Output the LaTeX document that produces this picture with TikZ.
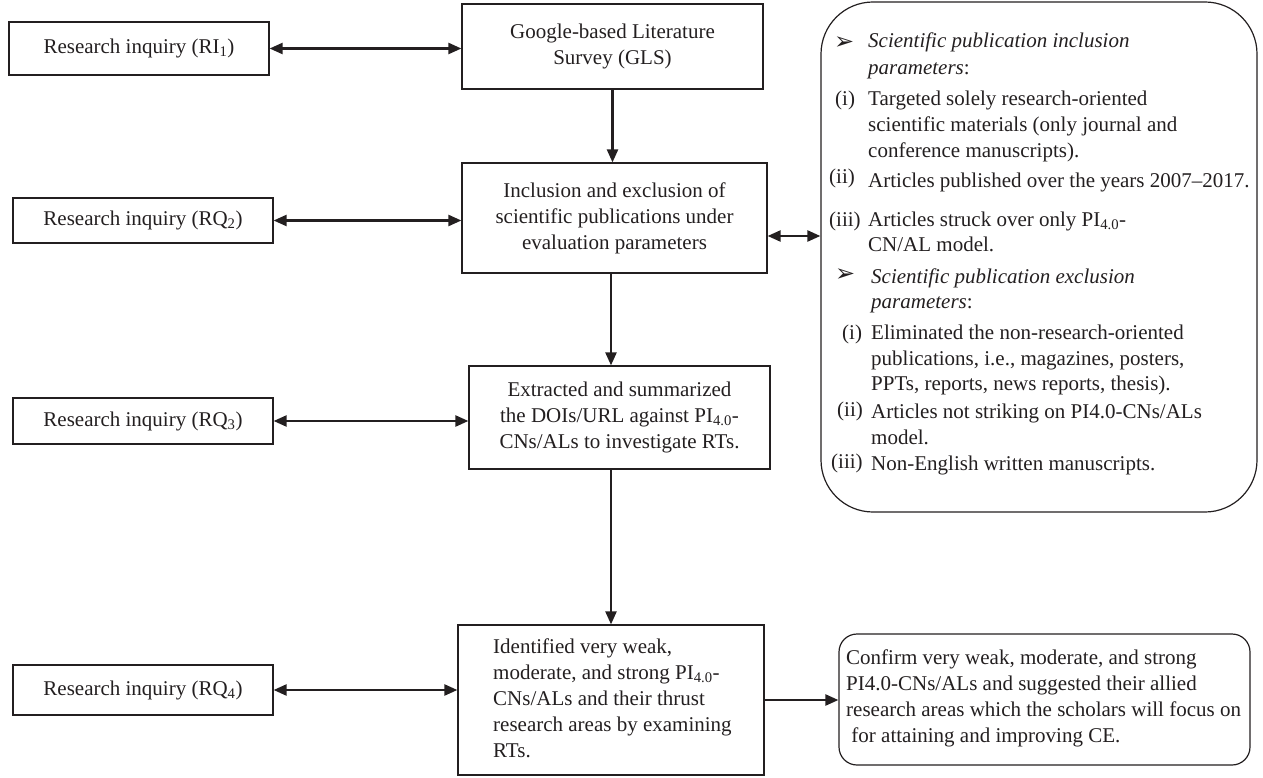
\documentclass[tikz,border=0pt]{standalone}
\usepackage{fontspec}
\setmainfont{Liberation Serif}
\newfontfamily\dingfont{DejaVu Sans}
\usetikzlibrary{arrows.meta,calc}
\definecolor{ink}{HTML}{231F20}
\newcommand{\mysub}[1]{\textsubscript{#1}}
\newcommand{\arrowbullet}{{\dingfont\fontsize{24}{24}\selectfont\symbol{"27A2}}}
\begin{document}
\begin{tikzpicture}[x=1pt,y=-1pt,
  >={Triangle[length=13pt,width=11pt]},
  every node/.style={font=\fontsize{21}{26}\selectfont, text=ink},
  box/.style={draw=ink, line width=1.2pt, inner sep=0pt, align=center},
  rbox/.style={box, rounded corners=18pt},
  bigbox/.style={box, rounded corners=52pt},
  dbl/.style={<->, line width=2.3pt, draw=ink},
  sgl/.style={->, line width=2.3pt, draw=ink},
  txt/.style={anchor=mid west, inner sep=0pt, align=left},
  blocktxt/.style={anchor=west, inner sep=0pt, align=left}
]
\useasboundingbox (0,0) rectangle (1263,778);

% left column
\node[box, minimum width=260pt, minimum height=53pt] (ri1) at (139,48.5) {Research inquiry (RI\mysub{1})};
\node[box, minimum width=260pt, minimum height=45pt] (rq2) at (143,220.5) {Research inquiry (RQ\mysub{2})};
\node[box, minimum width=260pt, minimum height=46pt] (rq3) at (143,421) {Research inquiry (RQ\mysub{3})};
\node[box, minimum width=260pt, minimum height=50pt] (rq4) at (143,690) {Research inquiry (RQ\mysub{4})};

% centre column
\node[box, minimum width=301pt, minimum height=85pt] (gls) at (612.5,46.5) {Google-based Literature\\Survey (GLS)};
\node[box, minimum width=305pt, minimum height=110pt] (incl) at (614.5,218) {Inclusion and exclusion of\\scientific publications under\\evaluation parameters};
\node[box, minimum width=301pt, minimum height=103pt] (extr) at (619.5,417.5) {Extracted and summarized\\the DOIs/URL against PI\mysub{4.0}-\\CNs/ALs to investigate RTs.};
\node[box, minimum width=306pt, minimum height=150pt] (ident) at (611,700) {};
\node[blocktxt] (identtext) at (493,698) {Identified very weak,\\moderate, and strong PI\mysub{4.0}-\\CNs/ALs and their thrust\\research areas by examining\\RTs.};

% right column
\node[bigbox, minimum width=436pt, minimum height=510pt] (big) at (1039,257) {};
\node[txt] (b1a) at (834,47) {\arrowbullet};
\node[txt] (b1) at (868,45) {\textit{Scientific publication inclusion}};
\node[txt] (b1b) at (868,72) {\textit{parameters}:};
\node[txt] (i1a) at (835,103) {(i)};
\node[txt] (i1) at (868,103) {Targeted solely research-oriented};
\node[txt] (i1b) at (868,129) {scientific materials (only journal and};
\node[txt] (i1c) at (868,155) {conference manuscripts).};
\node[txt] (i2a) at (829,181) {(ii)};
\node[txt] (i2) at (868,185) {Articles published over the years 2007--2017.};
\node[txt] (i3a) at (829,224) {(iii)};
\node[txt] (i3) at (868,224) {Articles struck over only PI\mysub{4.0}-};
\node[txt] (i3b) at (868,249) {CN/AL model.};
\node[txt] (b2a) at (835,279) {\arrowbullet};
\node[txt] (b2) at (871,281) {\textit{Scientific publication exclusion}};
\node[txt] (b2b) at (871,306) {\textit{parameters}:};
\node[txt] (e1a) at (842,337) {(i)};
\node[txt] (e1) at (871,337) {Eliminated the non-research-oriented};
\node[txt] (e1b) at (871,363) {publications, i.e., magazines, posters,};
\node[txt] (e1c) at (871,388) {PPTs, reports, news reports, thesis).};
\node[txt] (e2a) at (837,414) {(ii)};
\node[txt] (e2) at (871,416) {Articles not striking on PI4.0-CNs/ALs};
\node[txt] (e2b) at (871,442) {model.};
\node[txt] (e3a) at (831,466) {(iii)};
\node[txt] (e3) at (871,468) {Non-English written manuscripts.};

\node[rbox, minimum width=411pt, minimum height=131pt] (conf) at (1044.5,699.5) {};
\node[blocktxt] (conftext) at (846,698)
  {Confirm very weak, moderate, and strong\\PI4.0-CNs/ALs and suggested their allied\\research areas which the scholars will focus on\\\ for attaining and improving CE.};

% connectors
\draw[dbl] (ri1.east) -- (ri1.east -| gls.west);
\draw[dbl] (rq2.east) -- (rq2.east -| incl.west);
\draw[dbl] (rq3.east) -- (rq3.east -| extr.west);
\draw[dbl] (rq4.east) -- (rq4.east -| ident.west);
\coordinate (ib) at ([yshift=-18pt]incl.east);
\draw[dbl] (ib) -- (ib -| big.west);
\draw[sgl] (gls.south) -- (gls.south |- incl.north);
\draw[sgl] (incl.south -| ident.north) -- (ident.north |- extr.north);
\draw[sgl] (extr.south -| ident.north) -- (ident.north);
\draw[sgl] (ident.east) -- (ident.east -| conf.west);
\end{tikzpicture}
\end{document}
